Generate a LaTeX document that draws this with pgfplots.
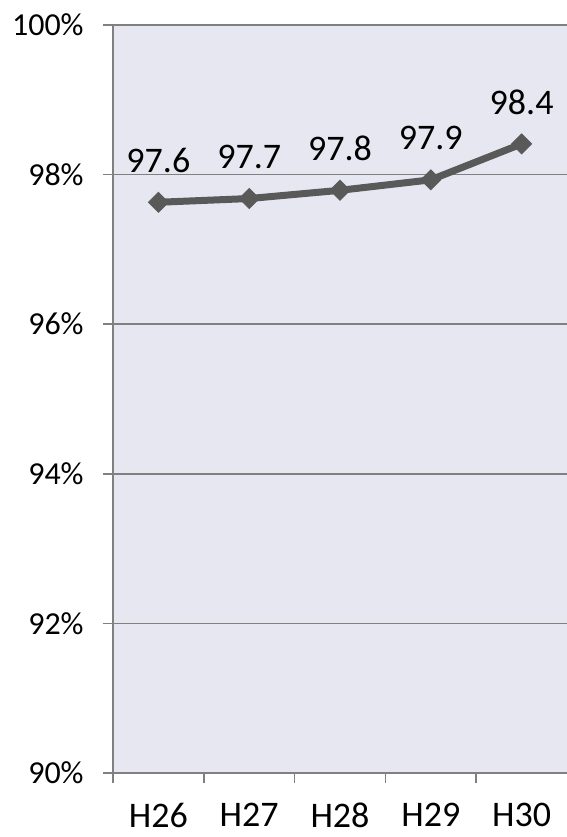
\documentclass[border=0pt]{standalone}
\usepackage{fontspec}
\setmainfont{Carlito}
\usepackage{pgfplots}
\pgfplotsset{compat=1.18}
\definecolor{bg}{RGB}{231,231,241}
\definecolor{ln}{RGB}{89,89,89}
\definecolor{ax}{RGB}{128,128,128}
\begin{document}
\begin{tikzpicture}
\begin{axis}[
 at={(0,0)}, anchor=south west,
 scale only axis, width=227pt, height=374pt,
 xmin=-0.5, xmax=4.5, ymin=90, ymax=100,
 axis background/.style={fill=bg},
 axis x line*=bottom, axis y line*=left,
 axis line style={ax, line width=1pt},
 ytick={90,92,...,100},
 yticklabel={\pgfmathprintnumber{\tick}\%},
 yticklabel style={font=\fontsize{16}{19}\selectfont, inner sep=0pt, anchor=east, xshift=-9.5pt},
 ymajorgrids, major grid style={ax, line width=0.8pt},
 tick align=outside, major tick length=5pt,
 tick style={ax, line width=0.8pt},
 xtick={-0.5,0.5,...,3.5}, xticklabels={},
 extra x ticks={0,1,2,3,4},
 extra x tick labels={H26,H27,H28,H29,H30},
 extra x tick style={major tick length=0pt, xticklabel style={font=\fontsize{18}{21}\selectfont, inner sep=0pt, anchor=center, yshift=-21pt}},
 ticklabel style={text=black},
 /pgf/number format/assume math mode=true,
 clip=false,
]
\addplot[ln, line width=3.5pt, mark=square*, mark size=3.5pt,
  mark options={solid, rotate=45, fill=ln, line width=0.5pt},
  nodes near coords={\fontsize{18}{21}\selectfont\pgfplotspointmeta},
  point meta=explicit symbolic,
  nodes near coords style={anchor=center, inner sep=0pt, yshift=21pt, text=black}]
  table[meta=label] {
x y label
0 97.63 97.6
1 97.68 97.7
2 97.79 97.8
3 97.93 97.9
4 98.41 98.4
};
\end{axis}
\pgfresetboundingbox
\path[use as bounding box] (-56.5pt,-32pt) rectangle (227pt,386.5pt);
\end{tikzpicture}
\end{document}
